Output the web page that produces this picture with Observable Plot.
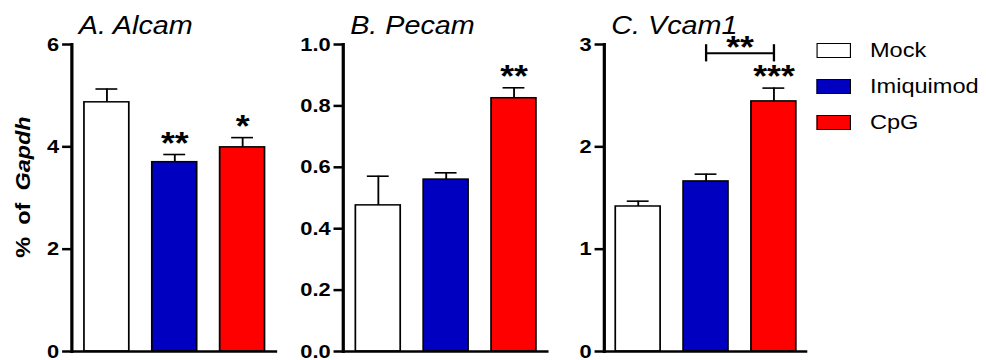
<!DOCTYPE html>
<html><head><meta charset="utf-8">
<script src="https://cdn.jsdelivr.net/npm/d3@7"></script>
<script src="https://cdn.jsdelivr.net/npm/@observablehq/plot@0.6"></script>
<style>
html,body{margin:0;padding:0;background:#fff;overflow:hidden}
#wrap{position:relative;width:858px;height:360px;transform:scaleX(1.15);transform-origin:0 0;font-family:"Liberation Sans",Arial,sans-serif;color:#000}
.panel{position:absolute;top:0}
.ylab{position:absolute;left:20.9px;top:187px;transform:translate(-50%,-50%) rotate(-90deg) scaleX(1.38);white-space:pre;font-weight:bold;font-size:17px;line-height:1;word-spacing:4px}
.leg{position:absolute;left:710px;display:flex;align-items:center;height:16px}
.leg .box{display:inline-block;width:30px;height:15px;box-sizing:border-box;border:1.5px solid #000}
.leg .lab{position:absolute;left:46.5px;font-size:20.5px;white-space:nowrap;line-height:1}
</style></head>
<body><div id="wrap"></div>
<script>
const groups = ["Mock", "Imiquimod", "CpG"];
const colors = ["#ffffff", "#0000c0", "#ff0000"];
const titles = ["A. Alcam", "B. Pecam", "C. Vcam1"];
const yLabel = "% of ";
const yLabelItalic = "Gapdh";

const alcamMean = [4.87, 3.70, 3.99];
const alcamSem  = [0.26, 0.15, 0.19];
const alcamStars = ["", "**", "*"];
const alcamTicks = [0, 2, 4, 6];

const pecamMean = [0.476, 0.560, 0.825];
const pecamSem  = [0.095, 0.022, 0.034];
const pecamStars = ["", "", "**"];
const pecamTicks = [0, 0.2, 0.4, 0.6, 0.8, 1.0];

const vcamMean = [1.417, 1.662, 2.444];
const vcamSem  = [0.052, 0.071, 0.13];
const vcamStars = ["", "", "***"];
const vcamTicks = [0, 1, 2, 3];
const vcamBracket = {from: "Imiquimod", to: "CpG", y: 2.915, lo: 2.83, hi: 2.998, label: "**"};

const FONT = "'Liberation Sans', Arial, sans-serif";
const wrap = document.getElementById("wrap");

function panel({left, width, mL, mR, domain, ticks, fmt, means, sems, stars, title, bracket}) {
  const data = groups.map((g, i) => ({group: g, mean: means[i], sem: sems[i], star: stars[i]}));
  const inner = width - mL - mR;
  const step = inner / 3;
  const marks = [
    Plot.barY(data, {x: "group", y: "mean", fill: "group", stroke: "black", strokeWidth: 1.5}),
    Plot.ruleX(data, {x: "group", y1: "mean", y2: d => d.mean + d.sem, stroke: "black", strokeWidth: 1.6}),
    Plot.tickY(data, {x: "group", y: d => d.mean + d.sem, insetLeft: 10, insetRight: 10, stroke: "black", strokeWidth: 1.6}),
    Plot.text(data, {x: "group", y: d => d.mean + d.sem, text: "star", lineAnchor: "bottom", dy: -1, fontSize: 31, fontWeight: "bold", fontFamily: FONT, fill: "black"}),
    Plot.ruleY([0], {stroke: "black", strokeWidth: 2.5}),
    Plot.axisY({ticks, tickFormat: fmt, tickSize: 8, tickPadding: 3, stroke: "black", strokeWidth: 2.5, label: null, fill: "black"}),
    Plot.frame({anchor: "left", stroke: "black", strokeWidth: 2.8}),
    Plot.text([title], {frameAnchor: "top-left", dx: 6, dy: -11, lineAnchor: "bottom", textAnchor: "start", fontSize: 25, fontStyle: "italic", fontWeight: "normal", fontFamily: FONT, fill: "black"})
  ];
  if (bracket) {
    marks.push(
      Plot.link([bracket], {x1: "from", x2: "to", y1: "y", y2: "y", stroke: "black", strokeWidth: 2}),
      Plot.ruleX([bracket.from, bracket.to], {x: d => d, y1: () => bracket.lo, y2: () => bracket.hi, stroke: "black", strokeWidth: 2}),
      Plot.text([bracket], {x: "from", y: "y", text: "label", dx: step / 2, dy: 5, lineAnchor: "bottom", fontSize: 31, fontWeight: "bold", fontFamily: FONT, fill: "black"})
    );
  }
  const p = Plot.plot({
    width, height: 360,
    marginLeft: mL, marginRight: mR, marginTop: 44, marginBottom: 9,
    style: {fontFamily: FONT, fontSize: "19px", fontWeight: "bold", color: "black", background: "transparent", overflow: "visible"},
    x: {domain: groups, paddingInner: 0.34, paddingOuter: 0.17, axis: null},
    y: {domain, axis: null},
    color: {domain: groups, range: colors},
    marks
  });
  p.classList.add("panel");
  p.style.left = left + "px";
  wrap.appendChild(p);
}

panel({left: 0, width: 249, mL: 62, mR: 8, domain: [0, 6], ticks: alcamTicks, fmt: d3.format("d"),
  means: alcamMean, sems: alcamSem, stars: alcamStars, title: titles[0]});
panel({left: 250, width: 235, mL: 48, mR: 8, domain: [0, 1], ticks: pecamTicks, fmt: d3.format(".1f"),
  means: pecamMean, sems: pecamSem, stars: pecamStars, title: titles[1]});
panel({left: 485, width: 225, mL: 40, mR: 8, domain: [0, 3], ticks: vcamTicks, fmt: d3.format("d"),
  means: vcamMean, sems: vcamSem, stars: vcamStars, title: titles[2], bracket: vcamBracket});

const yl = document.createElement("div");
yl.className = "ylab";
yl.appendChild(document.createTextNode(yLabel));
const it = document.createElement("i");
it.textContent = yLabelItalic;
yl.appendChild(it);
wrap.appendChild(yl);

groups.forEach((g, i) => {
  const row = document.createElement("div");
  row.className = "leg";
  row.style.top = (42 + i * 36) + "px";
  const box = document.createElement("span");
  box.className = "box";
  box.style.background = colors[i];
  const lab = document.createElement("span");
  lab.className = "lab";
  lab.textContent = g;
  row.appendChild(box);
  row.appendChild(lab);
  wrap.appendChild(row);
});
</script>
</body></html>
